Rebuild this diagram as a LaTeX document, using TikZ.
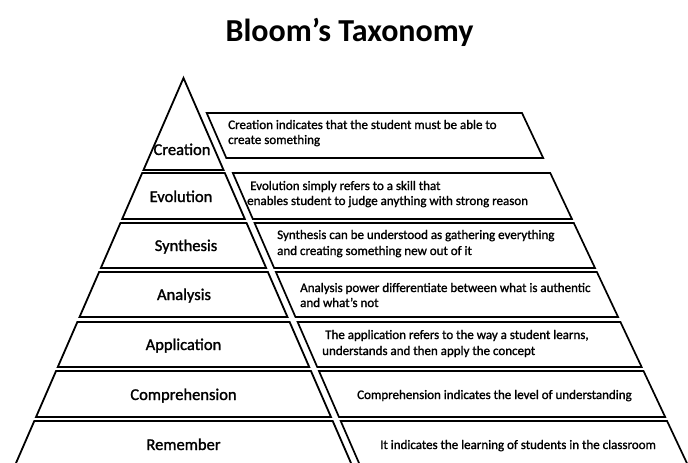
\documentclass[tikz,border=0pt]{standalone}
\usepackage{fontspec}
\setmainfont{Carlito}
\newfontfamily\semibfont{Carlito}[FakeBold=1.4]
\begin{document}
\begin{tikzpicture}[x=1pt,y=-1pt,
  tier/.style={draw=black,line width=1.8pt,line join=miter},
  descbox/.style={draw=black,line width=1.7pt,line join=miter},
  lbl/.style={font=\semibfont\fontsize{16.5}{18}\selectfont,inner sep=0pt,anchor=base},
  desc/.style={font=\semibfont\fontsize{13}{15.5}\selectfont,inner sep=0pt,anchor=base west}]
\useasboundingbox (0,0) rectangle (688,463);
\clip (0,0) rectangle (688,463);
\fill[white] (0,0) rectangle (688,463);
% title
\node[font=\bfseries\fontsize{32}{36}\selectfont,inner sep=0pt,anchor=base] (title) at (349.5,41) {Bloom’s Taxonomy};
% pyramid apex tier
\draw[tier] (183.5,78) -- ({183.5+0.435*92},170) -- ({183.5-0.435*92},170) -- cycle;
\node[lbl] (lCreation) at (182,155) {Creation};
% description box of apex tier
\draw[descbox] ({191.5+0.435*35},113) -- ({522},113) -- ({522+0.471*45},158) -- ({191.5+0.435*80},158) -- cycle;
% remaining tiers and boxes
\foreach \t/\b in {173/219,223/268,272/317,322/367,371/417,421/485}{
  \draw[tier] ({183.5-0.435*(\t-78)},\t) -- ({183.5+0.435*(\t-78)},\t)
     -- ({183.5+0.435*(\b-78)},\b) -- ({183.5-0.435*(\b-78)},\b) -- cycle;
  \draw[descbox] ({191.5+0.435*(\t-78)},\t) -- ({522+0.471*(\t-113)},\t)
     -- ({522+0.471*(\b-113)},\b) -- ({191.5+0.435*(\b-78)},\b) -- cycle;
}
% tier labels
\node[lbl] (lEvolution) at (181,202) {Evolution};
\node[lbl] (lSynthesis) at (186,251) {Synthesis};
\node[lbl] (lAnalysis) at (184,300) {Analysis};
\node[lbl] (lApplication) at (183.5,350) {Application};
\node[lbl] (lComprehension) at (183.5,400) {Comprehension};
\node[lbl] (lRemember) at (183.5,450) {Remember};
% descriptions
\node[desc] (d1a) at (228,129) {Creation indicates that the student must be able to};
\node[desc] (d1b) at (228,144) {create something};
\node[desc] (d2a) at (250,190) {Evolution simply refers to a skill that};
\node[desc] (d2b) at (247,205) {enables student to judge anything with strong reason};
\node[desc] (d3a) at (277,239) {Synthesis can be understood as gathering everything};
\node[desc] (d3b) at (277,255) {and creating something new out of it};
\node[desc] (d4a) at (300,292) {Analysis power differentiate between what is authentic};
\node[desc] (d4b) at (300,307) {and what’s not};
\node[desc] (d5a) at (325,339) {The application refers to the way a student learns,};
\node[desc] (d5b) at (322,355) {understands and then apply the concept};
\node[desc] (d6) at (357,399) {Comprehension indicates the level of understanding};
\node[desc] (d7) at (380,449) {It indicates the learning of students in the classroom};
\end{tikzpicture}
\end{document}
